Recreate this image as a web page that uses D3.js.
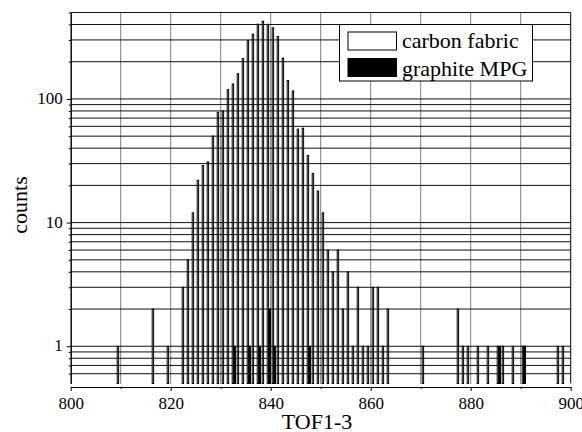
<!DOCTYPE html>
<html>
<head>
<meta charset="utf-8">
<script src="https://cdn.jsdelivr.net/npm/d3@7"></script>
<style>
  body { margin: 0; background: #fff; }
  svg { display: block; }
  text { font-family: "Liberation Serif", "Times New Roman", serif; fill: #000; }
  .axis path, .axis line { stroke: #000; stroke-width: 1; }
  .axis text { font-size: 17px; font-family: "Liberation Serif", serif; }
</style>
</head>
<body>
<div class="chart"></div>
<script>
// carbon fabric histogram (TOF1-3 channel -> counts)
const carbonTOF = [809, 816, 819, 822, 823, 824, 825, 826, 827, 828, 829, 830, 831, 832, 833, 834, 835, 836,
    837, 838, 839, 840, 841, 842, 843, 844, 845, 846, 847, 848, 849, 850, 851, 852, 853, 854, 855, 856, 857,
    858, 859, 860, 861, 862, 863, 870, 877, 878, 879, 881, 883, 885, 886, 888, 890, 897, 898]
const carbonCounts = [1, 2, 1, 3, 5, 12, 22, 29, 31, 50, 78, 80, 119, 132, 160, 212, 296, 334,
    402, 425, 401, 376, 320, 214, 141, 116, 57, 58, 35, 25, 18, 12, 6, 4, 6, 2, 4, 1, 3,
    1, 1, 3, 3, 1, 2, 1, 2, 1, 1, 1, 1, 1, 1, 1, 1, 1, 1]

// graphite MPG
const graphiteTOF = [832, 835, 837, 839, 840, 847, 885, 890]
const graphiteCounts = [1, 1, 1, 2, 1, 1, 1, 1]

const xTicks = [800, 820, 840, 860, 880, 900]
const xMinor = [810, 830, 850, 870, 890]
const yTicks = [1, 10, 100]
const seriesNames = ["carbon fabric", "graphite MPG"]

const width = 582, height = 432
const plotLeft = 70.7, plotRight = 570.7, plotTop = 12.5, plotBottom = 383.5

const svg = d3.select(".chart").append("svg")
    .attr("width", width)
    .attr("height", height)

const x = d3.scaleLinear().domain([800, 900]).range([plotLeft, plotRight])
const y = d3.scaleLog().domain([0.5, 500]).range([plotBottom, plotTop])

const carbon = carbonTOF.map((t, i) => ({t: t, v: carbonCounts[i]}))
const graphite = graphiteTOF.map((t, i) => ({t: t, v: graphiteCounts[i]}))

// hollow bars
svg.append("g").selectAll("rect")
    .data(carbon)
    .enter().append("rect")
    .attr("x", d => x(d.t + 0.3))
    .attr("width", x(800.58) - x(800.3))
    .attr("y", d => y(d.v))
    .attr("height", d => plotBottom - y(d.v))
    .attr("fill", "#fff")
    .attr("stroke", "#000")
    .attr("stroke-width", 1)

// filled bars
svg.append("g").selectAll("rect")
    .data(graphite)
    .enter().append("rect")
    .attr("x", d => x(d.t + 0.62))
    .attr("width", x(800.96) - x(800.62))
    .attr("y", d => y(d.v))
    .attr("height", d => plotBottom - y(d.v))
    .attr("fill", "#000")
    .attr("stroke", "#000")
    .attr("stroke-width", 1)

// horizontal grid at every log tick
const gridY = y.ticks().filter(d => d > 0.5)
svg.append("g").selectAll("line")
    .data(gridY)
    .enter().append("line")
    .attr("x1", plotLeft).attr("x2", plotRight)
    .attr("y1", d => y(d)).attr("y2", d => y(d))
    .attr("stroke", "#111")
    .attr("stroke-width", 1)

// vertical dotted grid
svg.append("g").selectAll("line")
    .data(d3.range(810, 900, 10))
    .enter().append("line")
    .attr("x1", d => x(d)).attr("x2", d => x(d))
    .attr("y1", plotTop).attr("y2", plotBottom)
    .attr("stroke", "#000")
    .attr("stroke-width", 1)
    .attr("stroke-dasharray", "1,1")

// right frame
svg.append("line")
    .attr("x1", plotRight).attr("x2", plotRight)
    .attr("y1", plotTop).attr("y2", plotBottom)
    .attr("stroke", "#000")

// x axis, drawn a little below the plot
const xAxisY = 387
svg.append("g")
    .attr("class", "axis")
    .attr("transform", "translate(0," + xAxisY + ")")
    .call(d3.axisBottom(x).tickValues(xTicks).tickSize(4).tickSizeOuter(0).tickPadding(6))
svg.append("g")
    .attr("class", "axis")
    .attr("transform", "translate(0," + xAxisY + ")")
    .call(d3.axisBottom(x).tickValues(xMinor).tickSize(2).tickSizeOuter(0).tickFormat(""))

// y axis
svg.append("g")
    .attr("class", "axis")
    .attr("transform", "translate(" + plotLeft + ",0)")
    .call(d3.axisLeft(y).tickValues(yTicks).tickFormat(d3.format("d")).tickSize(4).tickSizeOuter(0).tickPadding(4))
    .selectAll("text").attr("dy", "0.26em")
svg.append("g")
    .attr("class", "axis")
    .attr("transform", "translate(" + plotLeft + ",0)")
    .call(d3.axisLeft(y).tickValues(y.ticks().filter(d => yTicks.indexOf(d) < 0 && d > 0.5))
        .tickSize(2).tickSizeOuter(0).tickFormat(""))

svg.selectAll(".axis .domain").attr("stroke", "#000")

// axis titles
svg.append("text")
    .attr("x", 317)
    .attr("y", 429)
    .attr("text-anchor", "middle")
    .style("font-size", "22px")
    .text("TOF1-3")

svg.append("text")
    .attr("transform", "translate(27,205) rotate(-90)")
    .attr("text-anchor", "middle")
    .style("font-size", "22px")
    .text("counts")

// legend
const legend = svg.append("g")
legend.append("rect")
    .attr("x", 339.5).attr("y", 24.5)
    .attr("width", 193).attr("height", 56.5)
    .attr("fill", "#fff").attr("stroke", "#000")

seriesNames.forEach(function(name, i){
    legend.append("rect")
        .attr("x", 348).attr("y", 32 + i * 26.5)
        .attr("width", 48.5).attr("height", 18)
        .attr("fill", i == 0 ? "#fff" : "#000")
        .attr("stroke", "#000")
    legend.append("text")
        .attr("x", 402)
        .attr("y", 48 + i * 28)
        .style("font-size", "22px")
        .text(name)
})
</script>
</body>
</html>
